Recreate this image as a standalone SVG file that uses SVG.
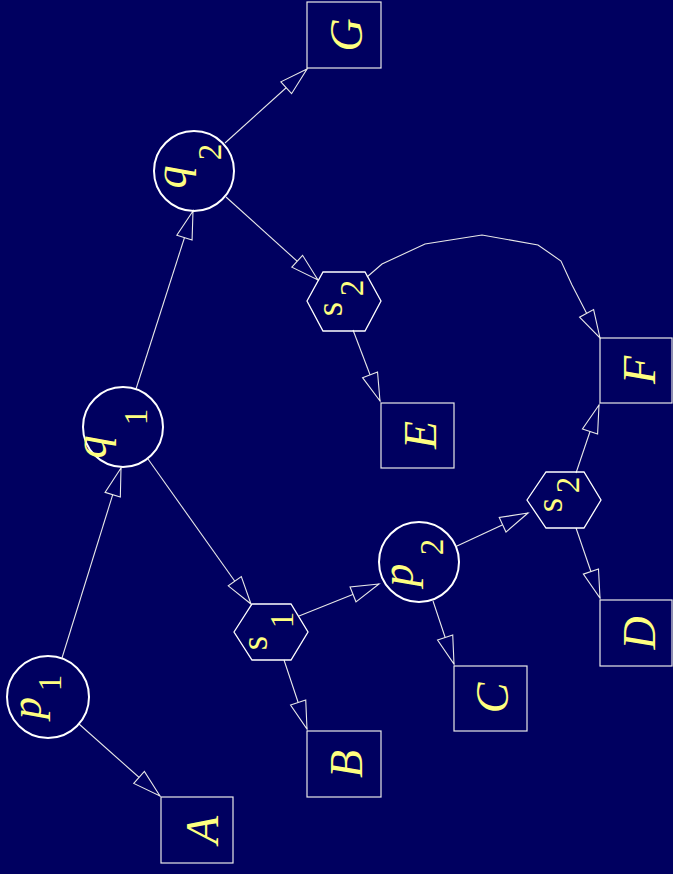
<svg xmlns="http://www.w3.org/2000/svg" width="673" height="874" viewBox="0 0 673 874">
<style>
.bg{fill:#000060}
.circ{fill:none;stroke:#ffffff;stroke-width:2}
.hex{fill:none;stroke:#ffffff;stroke-width:1.3}
.box{fill:none;stroke:#e8e8e8;stroke-width:1.2}
.edge{fill:none;stroke:#e8e8e8;stroke-width:1.1;marker-end:url(#arr)}
text{fill:#ffff80;font-family:"Liberation Serif","Times New Roman",serif;text-anchor:middle}
.big{font-size:46px;font-style:italic}
.sub{font-size:33px}
.s{font-size:37px}
</style>
<defs>
<marker id="arr" markerUnits="userSpaceOnUse" markerWidth="32" markerHeight="20" viewBox="-30 -10 32 20" refX="0" refY="0" orient="auto">
<path d="M0,0 L-28,-8 L-28,8 Z" fill="#000060" stroke="#e8e8e8" stroke-width="1.1"/>
</marker>
</defs>
<rect class="bg" x="0" y="0" width="673" height="874"/>
<g id="connectors">
<line class="edge" x1="79" y1="724" x2="160" y2="796"/>
<line class="edge" x1="62" y1="658" x2="121" y2="468"/>
<line class="edge" x1="136" y1="389" x2="193" y2="211"/>
<line class="edge" x1="148" y1="459" x2="251" y2="604"/>
<line class="edge" x1="225" y1="143" x2="307" y2="69"/>
<line class="edge" x1="226" y1="197" x2="318" y2="280"/>
<line class="edge" x1="353" y1="330" x2="380" y2="401"/>
<polyline class="edge" points="367,277 382,264 425,244 482,235 538,245 561,261 572,285 588,316 600,338"/>
<line class="edge" x1="284" y1="660" x2="307" y2="729"/>
<line class="edge" x1="299" y1="616" x2="379" y2="584"/>
<line class="edge" x1="433" y1="601" x2="454" y2="664"/>
<line class="edge" x1="457" y1="546" x2="528" y2="513"/>
<line class="edge" x1="576" y1="528" x2="600" y2="598"/>
<line class="edge" x1="576" y1="473" x2="599" y2="405"/>
</g>
<g id="p1">
<circle class="circ" cx="48" cy="697" r="41"/>
<text class="big" style="font-size:44px" transform="translate(41,708) rotate(-90)">p</text>
<text class="sub" transform="translate(61,683) rotate(-90)">1</text>
</g>
<g id="q1">
<circle class="circ" cx="123" cy="427" r="40"/>
<text class="big" transform="translate(106,447) rotate(-90)">q</text>
<text class="sub" transform="translate(147,417) rotate(-90)">1</text>
</g>
<g id="q2">
<circle class="circ" cx="194" cy="171" r="40"/>
<text class="big" transform="translate(186,177) rotate(-90)">q</text>
<text class="sub" transform="translate(221,152) rotate(-90)">2</text>
</g>
<g id="p2">
<circle class="circ" cx="419" cy="562" r="40"/>
<text class="big" transform="translate(413,575) rotate(-90)">p</text>
<text class="sub" transform="translate(443,547) rotate(-90)">2</text>
</g>
<g id="s1">
<polygon class="hex" points="234,632 252,604 291,604 308,632 291,660 252,660"/>
<text class="s" transform="translate(267,643) rotate(-90)">s</text>
<text class="sub" transform="translate(293,620) rotate(-90)">1</text>
</g>
<g id="s2a">
<polygon class="hex" points="307,301 323,272 365,272 381,301 365,331 323,331"/>
<text class="s" transform="translate(342,309) rotate(-90)">s</text>
<text class="sub" transform="translate(363,288) rotate(-90)">2</text>
</g>
<g id="s2b">
<polygon class="hex" points="527,500 546,472 584,472 601,500 584,528 546,528"/>
<text class="s" transform="translate(562,505) rotate(-90)">s</text>
<text class="sub" transform="translate(579,485) rotate(-90)">2</text>
</g>
<g id="A"><rect class="box" x="161" y="797" width="72" height="66"/><text class="big" transform="translate(218,830) rotate(-90)">A</text></g>
<g id="B"><rect class="box" x="307" y="731" width="74" height="66"/><text class="big" transform="translate(362,764) rotate(-90)">B</text></g>
<g id="C"><rect class="box" x="454" y="666" width="73" height="65"/><text class="big" transform="translate(508,698) rotate(-90)">C</text></g>
<g id="D"><rect class="box" x="600" y="600" width="72" height="66"/><text class="big" transform="translate(655,633) rotate(-90)">D</text></g>
<g id="E"><rect class="box" x="381" y="403" width="73" height="65"/><text class="big" transform="translate(436,435) rotate(-90)">E</text></g>
<g id="F"><rect class="box" x="600" y="338" width="72" height="65"/><text class="big" transform="translate(655,370) rotate(-90)">F</text></g>
<g id="G"><rect class="box" x="307" y="2" width="74" height="66"/><text class="big" transform="translate(362,35) rotate(-90)">G</text></g>
</svg>
